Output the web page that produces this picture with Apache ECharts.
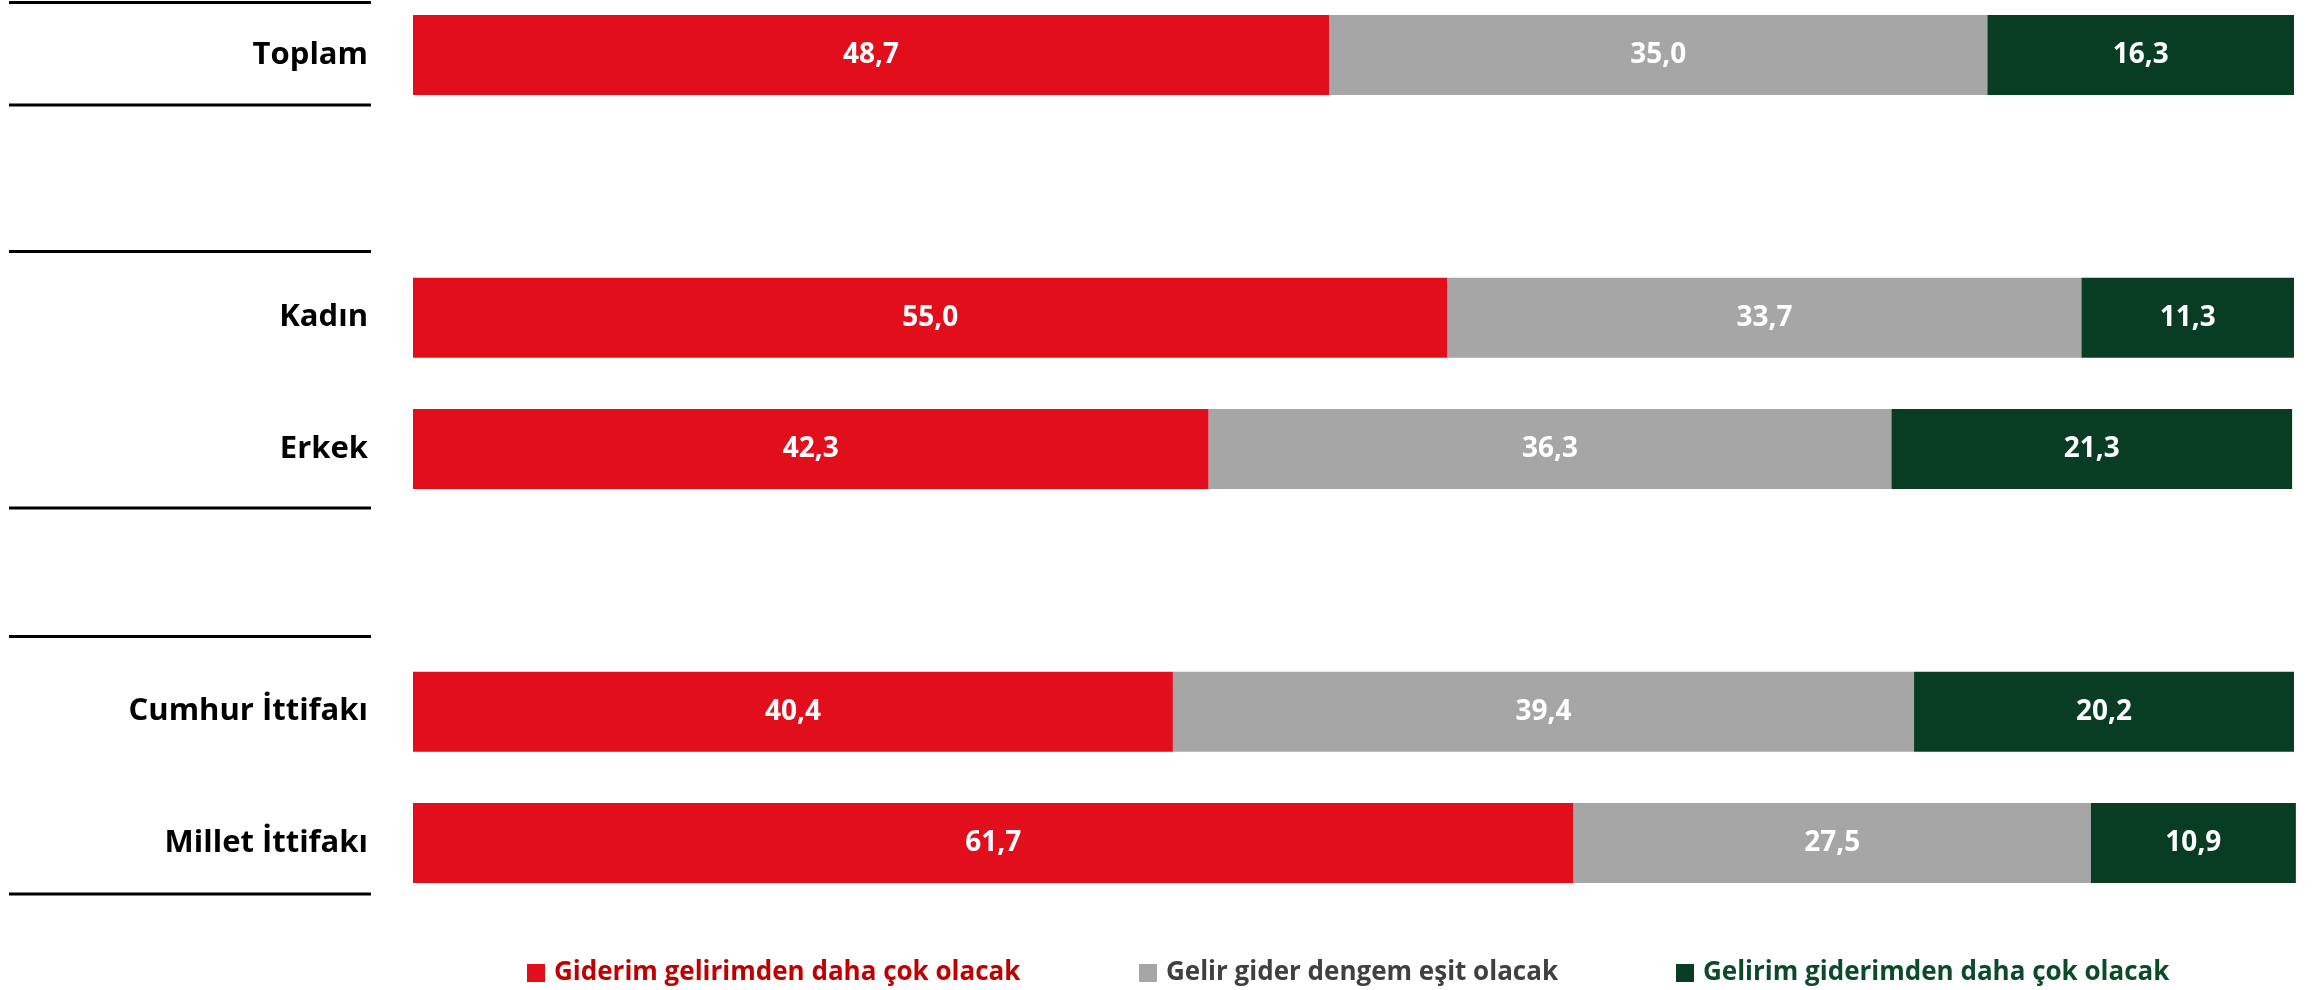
<!DOCTYPE html>
<html>
<head>
<meta charset="utf-8">
<script src="https://cdn.jsdelivr.net/npm/echarts@6/dist/echarts.min.js"></script>
<style>
html,body{margin:0;padding:0;background:#fff;}
#c{width:2313px;height:990px;}
</style>
</head>
<body>
<div id="c"></div>
<script>
// Rows (blank strings are spacer rows)
const categories = ['Toplam', '', 'Kadın', 'Erkek', '', 'Cumhur İttifakı', 'Millet İttifakı'];
const seriesNames = ['Giderim gelirimden daha çok olacak', 'Gelir gider dengem eşit olacak', 'Gelirim giderimden daha çok olacak'];
const giderFazla = [48.7, null, 55.0, 42.3, null, 40.4, 61.7];
const esit = [35.0, null, 33.7, 36.3, null, 39.4, 27.5];
const gelirFazla = [16.3, null, 11.3, 21.3, null, 20.2, 10.9];

const barColors = ['#E20E1C', '#A6A6A6', '#083D24'];
const legendTextColors = ['#C00000', '#404040', '#0B4A2B'];
const FONT = '"Open Sans", "Noto Sans", sans-serif';

const chart = echarts.init(document.getElementById('c'));

function mkSeries(name, data, color) {
  return {
    name: name,
    type: 'bar',
    stack: 'total',
    data: data,
    barWidth: 80,
    clip: false,
    itemStyle: { color: color },
    label: {
      show: true,
      position: 'inside',
      color: '#fff',
      fontFamily: FONT,
      fontWeight: 'bold',
      fontSize: 28,
      formatter: p => p.value == null ? '' : Number(p.value).toFixed(1).replace('.', ',')
    },
    emphasis: { disabled: true }
  };
}

const legendX = [527, 1139, 1676];
const sepLinesY = [2.5, 105, 251.5, 508, 636.5, 894];

chart.setOption({
  animation: false,
  grid: { left: 413, right: 19, top: 55, bottom: 147, containLabel: false },
  xAxis: { type: 'value', min: 0, max: 100, show: false },
  yAxis: {
    type: 'category',
    data: categories,
    inverse: true,
    boundaryGap: false,
    axisLine: { show: false },
    axisTick: { show: false },
    splitLine: { show: false },
    axisLabel: {
      margin: 45,
      color: '#000',
      fontFamily: FONT,
      fontWeight: 'bold',
      fontSize: 31
    }
  },
  legend: seriesNames.map((n, i) => ({
    data: [n],
    left: legendX[i],
    top: 960,
    padding: 0,
    icon: 'rect',
    itemWidth: 18,
    itemHeight: 18,
    selectedMode: false,
    textStyle: {
      color: legendTextColors[i],
      fontFamily: FONT,
      fontWeight: 'bold',
      fontSize: 26,
      padding: [0, 0, 0, 4]
    }
  })),
  graphic: sepLinesY.map(y => ({
    type: 'line',
    shape: { x1: 9, y1: y, x2: 371, y2: y },
    style: { stroke: '#000', lineWidth: 3 },
    silent: true
  })),
  series: [
    mkSeries(seriesNames[0], giderFazla, barColors[0]),
    mkSeries(seriesNames[1], esit, barColors[1]),
    mkSeries(seriesNames[2], gelirFazla, barColors[2])
  ]
});
</script>
</body>
</html>
